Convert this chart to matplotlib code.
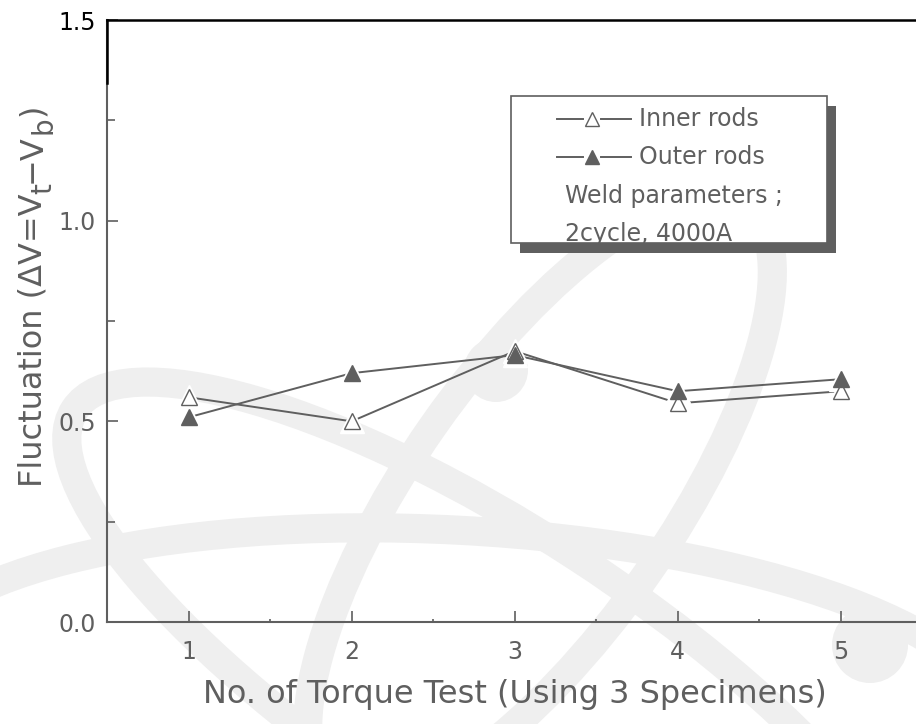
import matplotlib
matplotlib.use("Agg")
import matplotlib.pyplot as plt
from matplotlib.patches import Rectangle, Ellipse, Circle
from matplotlib.lines import Line2D
from matplotlib.transforms import IdentityTransform

# data
tests = [1, 2, 3, 4, 5]
inner_rods = [0.56, 0.50, 0.675, 0.545, 0.575]
outer_rods = [0.51, 0.62, 0.665, 0.575, 0.605]
legend_lines = ["Inner rods", "Outer rods"]
legend_notes = ["Weld parameters ;", "2cycle, 4000A"]
x_ticks = [1, 2, 3, 4, 5]
y_ticks = [0.0, 0.5, 1.0, 1.5]

gray = "#5f5f5f"
plt.rcParams["font.family"] = ["DejaVu Sans"]

W, H = 916, 724
fig = plt.figure(figsize=(W / 100, H / 100), dpi=100)

# faint atom watermark behind everything (pixel coords, y from the bottom)
wm = "#efefef"
px = IdentityTransform()
for (cx, cy), w, h, ang in [((450, H - 700), 1100, 340, -3),
                             ((494, H - 682), 1000, 300, -33),
                             ((540, H - 500), 720, 260, 55)]:
    fig.patches.append(Ellipse((cx, cy), w, h, angle=ang, fill=False, lw=21, ec=wm,
                               transform=px, zorder=-1))
fig.patches.append(Circle((496, H - 370), 32, fc=wm, lw=0, transform=px, zorder=-1))
fig.patches.append(Circle((870, H - 645), 38, fc=wm, lw=0, transform=px, zorder=-1))

ax = fig.add_axes([107 / W, (H - 622) / H, 815.5 / W, 602 / H])
ax.patch.set_alpha(0)

# lines with a gap at each marker (white halo under the marker)
for vals in [inner_rods, outer_rods]:
    ax.plot(tests, vals, color=gray, lw=1.4, zorder=2)
    ax.plot(tests, vals, ls="none", marker="^", ms=17, mfc="white", mec="white", zorder=3)
for vals, face in [(inner_rods, "white"), (outer_rods, gray)]:
    ax.plot(tests, vals, ls="none", marker="^", ms=11.5, mfc=face, mec=gray, mew=1.0, zorder=4)

ax.set_xlim(0.5, 5.5)
ax.set_ylim(0.0, 1.5)
ax.set_xticks(x_ticks)
ax.set_xticks([1.5, 2.5, 3.5, 4.5], minor=True)
ax.set_yticks(y_ticks)
ax.set_yticks([0.25, 0.75, 1.25], minor=True)
ax.set_yticklabels(["%.1f" % v for v in y_ticks])
ax.tick_params(direction="in", which="major", length=8, width=1.2, colors=gray, labelsize=17)
ax.tick_params(axis="y", which="major", pad=8)
ax.tick_params(axis="x", which="major", pad=13)
ax.tick_params(axis="y", which="minor", direction="in", length=6, width=1.2, colors=gray)
ax.tick_params(axis="x", which="minor", direction="in", length=2, width=1.2, colors=gray)
ax.get_yticklabels()[-1].set_color("black")

for s in ["left", "bottom"]:
    ax.spines[s].set_color(gray)
    ax.spines[s].set_linewidth(1.5)
ax.spines["top"].set_color("black")
ax.spines["top"].set_linewidth(1.8)
ax.spines["right"].set_visible(False)
# the top part of the left axis is black in the original
ax.add_line(Line2D([0, 0], [0.895, 1], transform=ax.transAxes, color="black", lw=1.8,
                   clip_on=False, zorder=6))

ax.set_xlabel("No. of Torque Test (Using 3 Specimens)", fontsize=23, color=gray)
ax.xaxis.set_label_coords(0.5, -0.095)

# y label built from pieces so the subscripts keep near full size
renderer = fig.canvas.get_renderer()
pieces = [("Fluctuation (\u0394V=V", 23, 0), ("t", 20, 10), ("\u2212V", 23, 0),
          ("b", 20, 10), (")", 23, 0)]
y_px = 487
for s, size, dx in pieces:
    t = fig.text((41 + dx) / W, (H - y_px) / H, s, fontsize=size, color=gray, rotation=90,
                 rotation_mode="anchor", ha="left", va="baseline")
    y_px -= t.get_window_extent(renderer).height

# legend box with a hard drop shadow
bx0, by0, bx1, by1 = 0.4954, 0.6296, 0.8829, 0.8738
ax.add_patch(Rectangle((bx0 + 0.011, by0 - 0.016), bx1 - bx0, by1 - by0,
                       transform=ax.transAxes, fc=gray, ec="none", zorder=5))
ax.add_patch(Rectangle((bx0, by0), bx1 - bx0, by1 - by0, transform=ax.transAxes,
                       fc="white", ec=gray, lw=1.2, zorder=6))
row_y = [0.836, 0.772, 0.707, 0.644]
for i, (label, face) in enumerate(zip(legend_lines, ["white", gray])):
    y = row_y[i]
    ax.add_line(Line2D([0.5516, 0.5835], [y, y], transform=ax.transAxes, color=gray, lw=1.4, zorder=7))
    ax.add_line(Line2D([0.6056, 0.6424], [y, y], transform=ax.transAxes, color=gray, lw=1.4, zorder=7))
    ax.add_line(Line2D([0.5945], [y], transform=ax.transAxes, ls="none", marker="^", ms=10,
                       mfc=face, mec=gray, mew=1.0, zorder=7))
    ax.text(0.652, y, label, transform=ax.transAxes, fontsize=17, color=gray,
            va="center", ha="left", zorder=7)
for i, note in enumerate(legend_notes):
    ax.text(0.5615, row_y[i + 2], note, transform=ax.transAxes, fontsize=17, color=gray,
            va="center", ha="left", zorder=7)

fig.savefig("out.png", dpi=100)
